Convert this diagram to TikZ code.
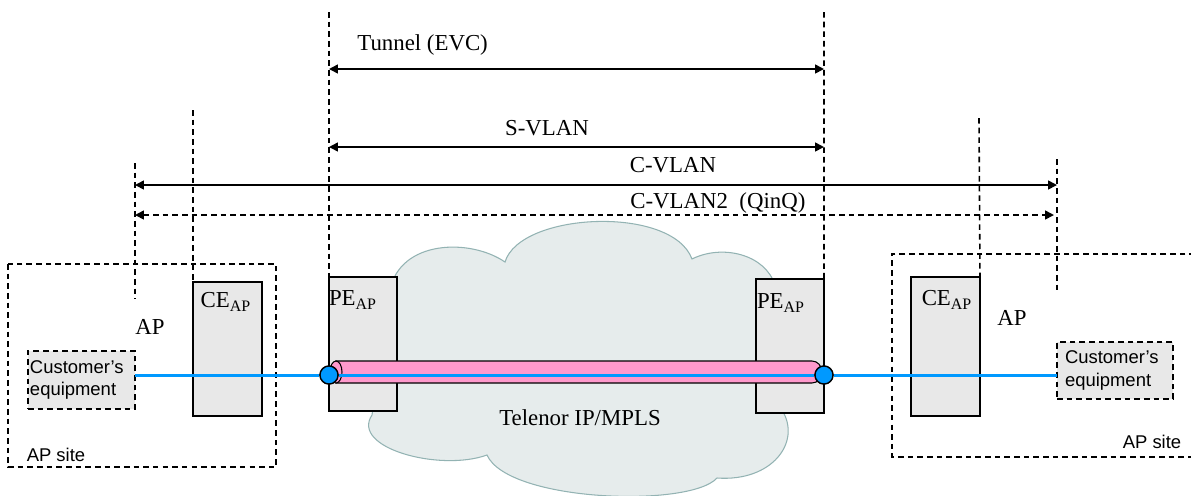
\documentclass[tikz,border=0pt]{standalone}
\usepackage{fontspec}
\setmainfont{Liberation Serif}
\newfontfamily\labelsans{Liberation Sans}
\usetikzlibrary{arrows.meta}
\definecolor{cloudfill}{HTML}{E6ECEC}
\definecolor{cloudline}{HTML}{93B3B3}
\definecolor{linkblue}{HTML}{0099FF}
\definecolor{tubepink}{HTML}{FF99CC}
\definecolor{boxgray}{HTML}{E8E8E8}
\tikzset{
  dashline/.style={line width=0.9pt, dash pattern=on 3.2pt off 2.3pt},
  span/.style={line width=0.9pt, {Triangle[length=5pt,width=5pt]}-{Triangle[length=5pt,width=5pt]}},
  devbox/.style={draw, line width=0.8pt, fill=boxgray, inner sep=0pt, outer sep=0pt, anchor=north west},
  custbox/.style={dashline, draw, fill=boxgray, outer sep=0pt, anchor=north west, align=left,
    font=\labelsans\fontsize{10.5}{13}\selectfont},
  lbl/.style={font=\fontsize{13}{15}\selectfont, inner sep=0pt},
  sitelbl/.style={font=\labelsans\fontsize{10.5}{13}\selectfont, inner sep=0pt},
  link/.style={draw=linkblue, line width=1.7pt},
  endpt/.style={circle, draw, line width=0.75pt, fill=linkblue, minimum size=0.36cm, inner sep=0pt}
}
\begin{document}
\begin{tikzpicture}[x=0.02cm, y=-0.02cm]
  \useasboundingbox (0,0) rectangle (1191,495);
  % IP/MPLS cloud
  \draw[fill=cloudfill, draw=cloudline, line width=0.6pt]
    (390,290) .. controls (400,240) and (470,238) .. (505,262)
    .. controls (520,212) and (672,205) .. (692,259)
    .. controls (722,244) and (765,254) .. (775,285)
    -- (782,410)
    .. controls (802,442) and (772,482) .. (717,478)
    .. controls (690,508) and (508,502) .. (487,455)
    .. controls (440,472) and (350,448) .. (372,415)
    -- cycle;
  \node[lbl] (mpls) at (580,418) {Telenor IP/MPLS};
  % sites
  \draw[dashline] (8,264) rectangle (276,467);
  \draw[dashline] (1195,254) -- (892,254) -- (892,457) -- (1195,457);
  \node[sitelbl] (siteL) at (56,455) {AP site};
  \node[sitelbl] (siteR) at (1152,442) {AP site};
  % devices
  \node[devbox, minimum width=1.38cm, minimum height=2.68cm] (ceL) at (193,282) {};
  \node[devbox, minimum width=1.38cm, minimum height=2.78cm] (ceR) at (911,277) {};
  \node[devbox, minimum width=1.36cm, minimum height=2.68cm] (peL) at (329,277) {};
  \node[devbox, minimum width=1.36cm, minimum height=2.68cm] (peR) at (756,279) {};
  \node[custbox, minimum width=2.14cm, minimum height=1.16cm, text width=2.06cm, inner xsep=0.02cm]
    (custL) at (28,351) {Customer’s\\equipment};
  \node[custbox, minimum width=2.32cm, minimum height=1.14cm, text width=2.0cm, inner xsep=0.16cm]
    (custR) at (1057,342) {Customer’s\\equipment};
  \node[lbl] (ceLlbl) at (226,302) {CE\textsubscript{AP}};
  \node[lbl] (ceRlbl) at (947,300) {CE\textsubscript{AP}};
  \node[lbl] (peLlbl) at (353,300) {PE\textsubscript{AP}};
  \node[lbl] (peRlbl) at (781,303) {PE\textsubscript{AP}};
  \node[lbl] (apL) at (150,327) {AP};
  \node[lbl] (apR) at (1012,318) {AP};
  % reference lines
  \coordinate (v1t) at (135,163);  \coordinate (v1b) at (135,299);
  \coordinate (v2t) at (193,110);
  \coordinate (v3t) at (329,12);
  \coordinate (v4t) at (824,12);
  \coordinate (v5t) at (979,118);
  \coordinate (v6t) at (1057,159); \coordinate (v6b) at (1057,292);
  \draw[dashline] (v1t) -- (v1b);
  \draw[dashline] (v2t) -- (ceL.north west);
  \draw[dashline] (v3t) -- (peL.north west);
  \draw[dashline] (v4t) -- (peR.north east);
  \draw[dashline] (v5t) -- (ceR.north east);
  \draw[dashline] (v6t) -- (v6b);
  % spans
  \draw[span] (329,69) -- (824,69);
  \node[lbl, anchor=west] (tunnel) at (357,45) {Tunnel (EVC)};
  \draw[span] (329,147) -- (824,147);
  \node[lbl] (svlan) at (547,128) {S-VLAN};
  \draw[span] (135,185) -- (1057,185);
  \node[lbl] (cvlan) at (673,165) {C-VLAN};
  \draw[span, dash pattern=on 3.2pt off 2.3pt] (135,215) -- (1054,215);
  \node[lbl, anchor=west] (cvlan2) at (630,203) {C-VLAN2\ \ (QinQ)};
  % tunnel pipe
  \draw[fill=tubepink, line width=0.6pt] (336,361) -- (812,361) arc (90:-90:0.2cm and 0.22cm) -- (336,383) -- cycle;
  \draw[fill=tubepink, line width=0.6pt] (336,372) ellipse (0.12cm and 0.22cm);
  % access link
  \node[endpt] (dotL) at (329,375) {};
  \node[endpt] (dotR) at (824,375) {};
  \draw[link] (custL.east |- dotL) -- (dotL) -- (dotR) -- (custR.west |- dotR);
  \node[endpt] at (dotL) {};
  \node[endpt] at (dotR) {};
\end{tikzpicture}
\end{document}
